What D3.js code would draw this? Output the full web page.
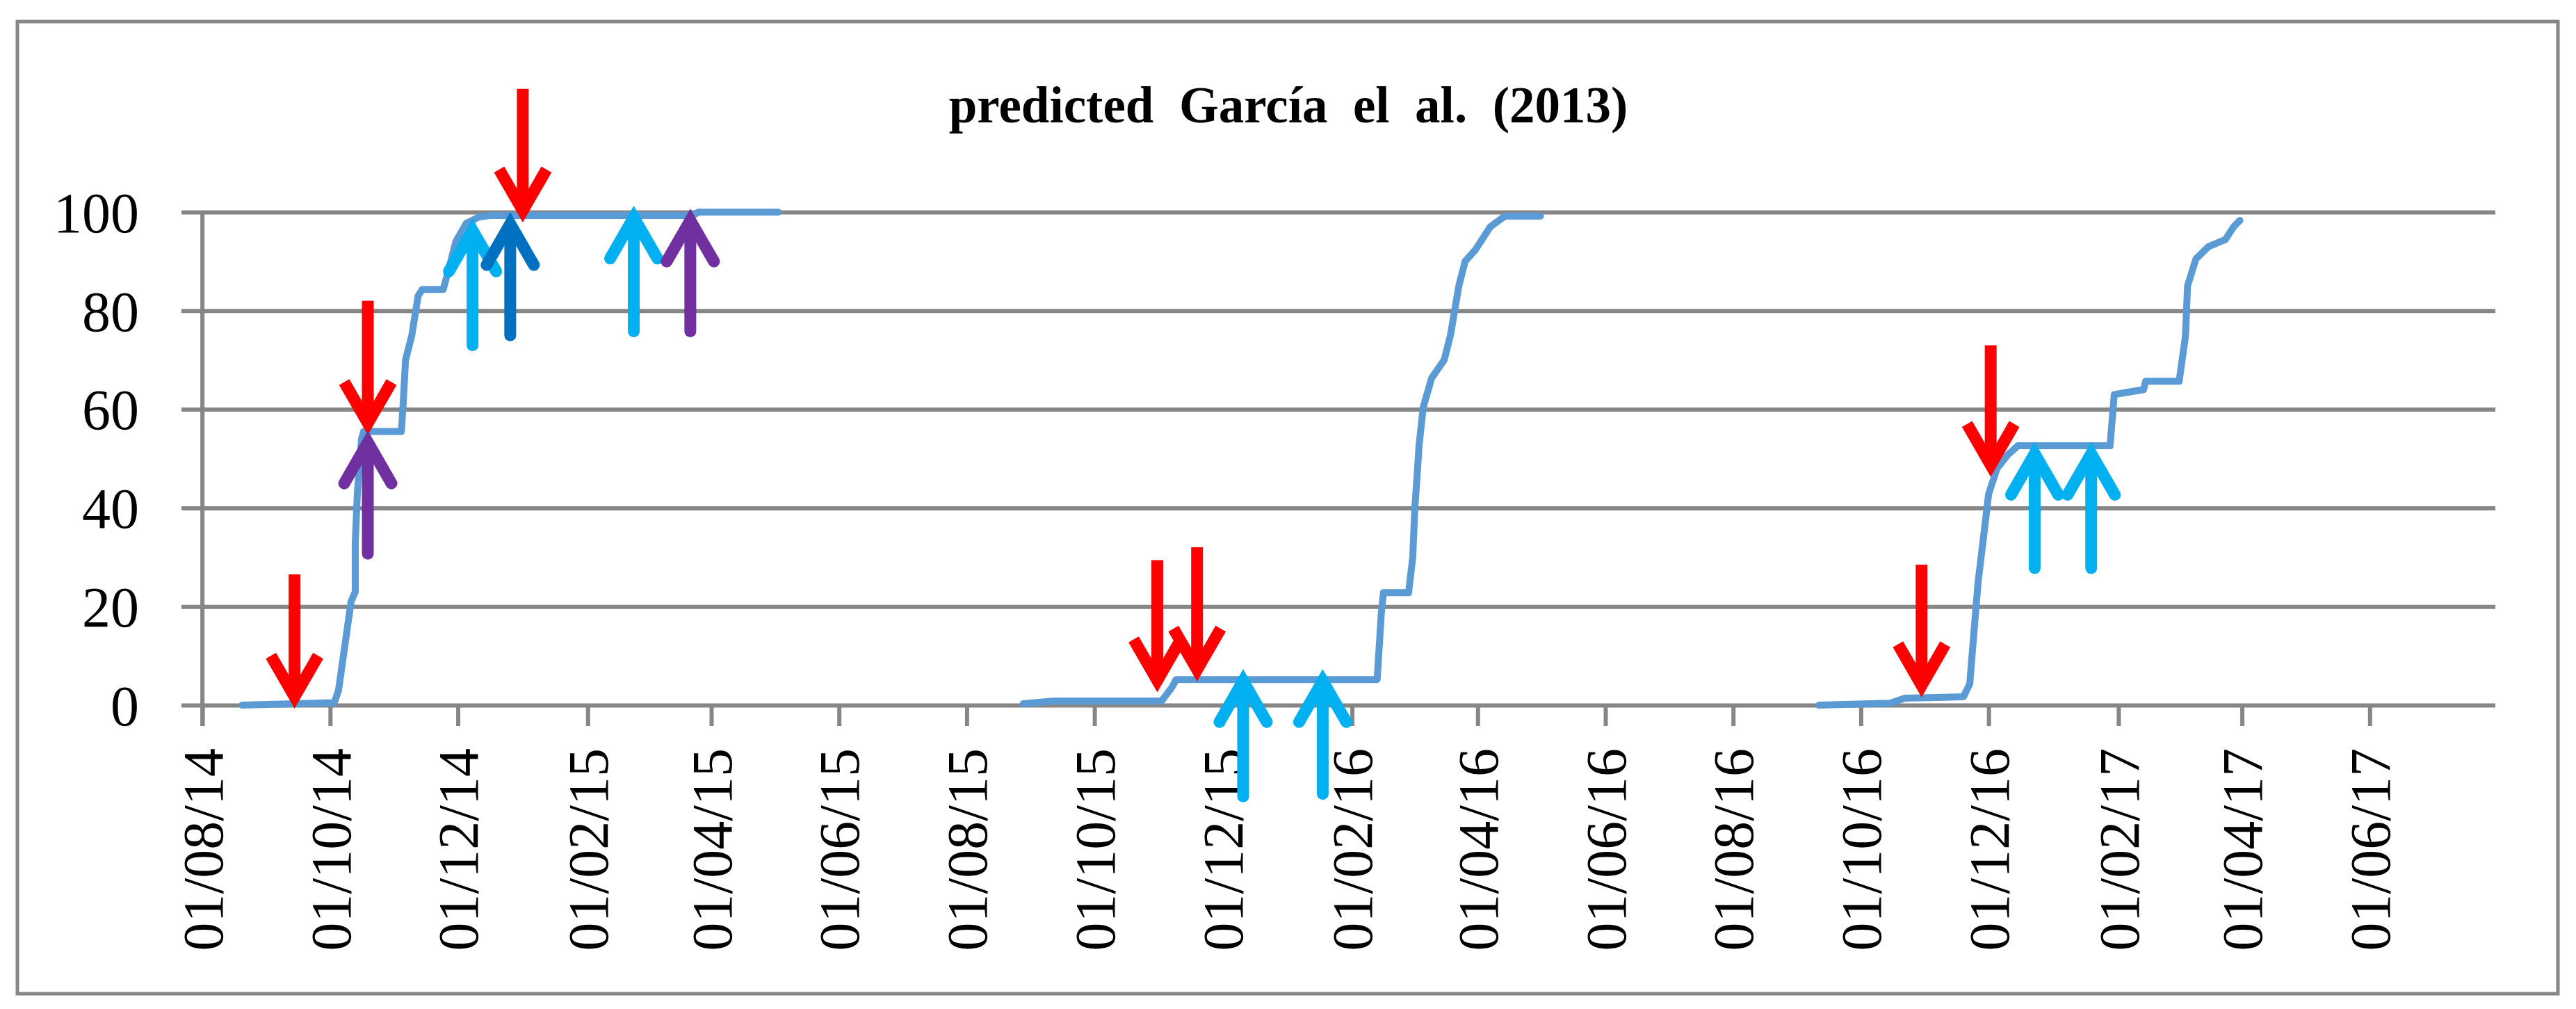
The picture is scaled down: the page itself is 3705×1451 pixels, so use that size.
<!DOCTYPE html>
<html><head><meta charset="utf-8">
<script src="https://cdn.jsdelivr.net/npm/d3@7"></script>
<style>body{margin:0;background:#fff}</style></head>
<body><svg id="c" width="3705" height="1451"></svg>
<script>
const title = "predicted  García  el  al.  (2013)";
const yTicks = [0,20,40,60,80,100];
const xTickDates = ["2014-08-01","2014-10-01","2014-12-01","2015-02-01","2015-04-01","2015-06-01","2015-08-01","2015-10-01","2015-12-01","2016-02-01","2016-04-01","2016-06-01","2016-08-01","2016-10-01","2016-12-01","2017-02-01","2017-04-01","2017-06-01"];
const season1Dates = ["2014-08-20","2014-10-03","2014-10-05","2014-10-08","2014-10-11","2014-10-13","2014-10-13","2014-10-14","2014-10-16","2014-10-17","2014-11-04","2014-11-05","2014-11-06","2014-11-09","2014-11-12","2014-11-14","2014-11-24","2014-11-27","2014-11-30","2014-12-05","2014-12-11","2014-12-16","2015-03-23","2015-03-26","2015-05-03"];
const season1Values = [0,0.5,3,12,21,23,33,43,54,55.5,55.5,62,70,75,83,84.3,84.3,89,94,97.7,99,99.3,99.3,100,100];
const season2Dates = ["2015-08-28","2015-09-11","2015-11-02","2015-11-07","2015-11-09","2016-02-13","2016-02-15","2016-02-16","2016-02-28","2016-03-01","2016-03-02","2016-03-03","2016-03-04","2016-03-06","2016-03-10","2016-03-16","2016-03-19","2016-03-23","2016-03-26","2016-03-31","2016-04-07","2016-04-14","2016-05-01"];
const season2Values = [0.3,0.8,0.8,3.6,5.2,5.2,18.7,22.8,22.8,30,40,46,52.6,60.4,66.3,70,75,85,90,92.4,97,99.2,99.2];
const season3Dates = ["2016-09-11","2016-10-15","2016-10-22","2016-11-19","2016-11-22","2016-11-24","2016-11-26","2016-11-29","2016-12-01","2016-12-05","2016-12-10","2016-12-15","2017-01-28","2017-01-30","2017-02-13","2017-02-14","2017-03-02","2017-03-05","2017-03-06","2017-03-10","2017-03-16","2017-03-24","2017-03-28","2017-03-31"];
const season3Values = [0,0.4,1.4,1.7,4.3,14.8,25,35.6,42.8,48,50.7,52.6,52.6,63,64,65.7,65.7,74.8,85,90.5,93,94.4,97,98.3];
// arrows: date, tip value, tail value, colour
const arrowDates = ["2014-09-14","2014-10-19","2014-10-19","2014-12-08","2014-12-26","2015-01-01","2015-02-23","2015-03-22","2015-10-31","2015-11-19","2015-12-11","2016-01-18","2016-10-30","2016-12-02","2016-12-23","2017-01-19"];
const arrowTips = [1,56.5,54,97,98.3,99.6,99.6,99,4.3,6.5,5.6,5.6,3.3,48,51.7,51.7];
const arrowTails = [26.5,82,30.7,73,75,125,75.8,75.8,29.4,32,-18.5,-18,28.5,73,27.8,27.8];
const arrowColors = ["#FF0000","#FF0000","#7030A0","#00B0F0","#0070C0","#FF0000","#00B0F0","#7030A0","#FF0000","#FF0000","#00B0F0","#00B0F0","#FF0000","#FF0000","#00B0F0","#00B0F0"];

const P = d3.timeParse("%Y-%m-%d");
const fmt = d3.timeFormat("%d/%m/%y");
const svg = d3.select("#c");
const font = "'Liberation Serif', serif";
const grey = "#868686";

svg.append("rect").attr("x",25).attr("y",31).attr("width",3654).attr("height",1398)
  .attr("fill","#fff").attr("stroke",grey).attr("stroke-width",5);

const x = d3.scaleTime().domain([P("2014-07-22"),P("2017-07-31")]).range([261,3589]);
const y = d3.scaleLinear().domain([0,100]).range([1014,305]);

svg.append("text").attr("x",1853).attr("y",176).attr("text-anchor","middle")
  .attr("font-family",font).attr("font-weight","bold").attr("font-size",73)
  .attr("xml:space","preserve").style("white-space","pre").text(title);

const yAxis = svg.append("g").attr("transform","translate(261,0)")
  .call(d3.axisRight(y).tickValues(yTicks).tickSize(3328).tickFormat(""));
yAxis.select(".domain").remove();
yAxis.selectAll("line").attr("stroke",grey).attr("stroke-width",6);
svg.selectAll(".ylab").data(yTicks).join("text").attr("class","ylab")
  .attr("x",200).attr("y",d=>y(d)).attr("dy","0.35em").attr("text-anchor","end")
  .attr("font-family",font).attr("font-size",82).text(d=>d);

svg.append("line").attr("x1",x(P("2014-08-01"))).attr("x2",x(P("2014-08-01")))
  .attr("y1",303).attr("y2",1044).attr("stroke",grey).attr("stroke-width",6);

const xAxis = svg.append("g").attr("transform","translate(0,1014)")
  .call(d3.axisBottom(x).tickValues(xTickDates.map(P)).tickSize(30).tickFormat(""));
xAxis.select(".domain").remove();
xAxis.selectAll("line").attr("stroke",grey).attr("stroke-width",6);
svg.selectAll(".xlab").data(xTickDates).join("text").attr("class","xlab")
  .attr("transform",d=>`translate(${x(P(d))},1076) rotate(-90)`)
  .attr("dy","0.35em").attr("text-anchor","end")
  .attr("font-family",font).attr("font-size",82).text(d=>fmt(P(d)));

const line = d3.line().x(d=>x(d[0])).y(d=>y(d[1]));
[[season1Dates,season1Values],[season2Dates,season2Values],[season3Dates,season3Values]].forEach(([ds,vs])=>{
  svg.append("path").datum(ds.map((d,i)=>[P(d),vs[i]])).attr("d",line)
    .attr("fill","none").attr("stroke","#5B9BD5").attr("stroke-width",10)
    .attr("stroke-linejoin","round").attr("stroke-linecap","round");
});

arrowDates.forEach((d,i)=>{
  const ax = x(P(d)), ty = y(arrowTips[i]), by = y(arrowTails[i]);
  const dir = by > ty ? 1 : -1;
  const c = arrowColors[i];
  const cap = c==="#FF0000" ? "butt" : "round";
  const g = svg.append("g").attr("stroke",c).attr("fill","none").attr("stroke-width",17)
    .attr("stroke-linecap",cap);
  g.append("line").attr("x1",ax).attr("x2",ax).attr("y1",by).attr("y2",ty + dir*8);
  g.append("polyline").attr("stroke-linejoin","miter")
    .attr("points",`${ax-34},${ty+dir*64} ${ax},${ty+dir*5} ${ax+34},${ty+dir*64}`);
});
</script></body></html>
